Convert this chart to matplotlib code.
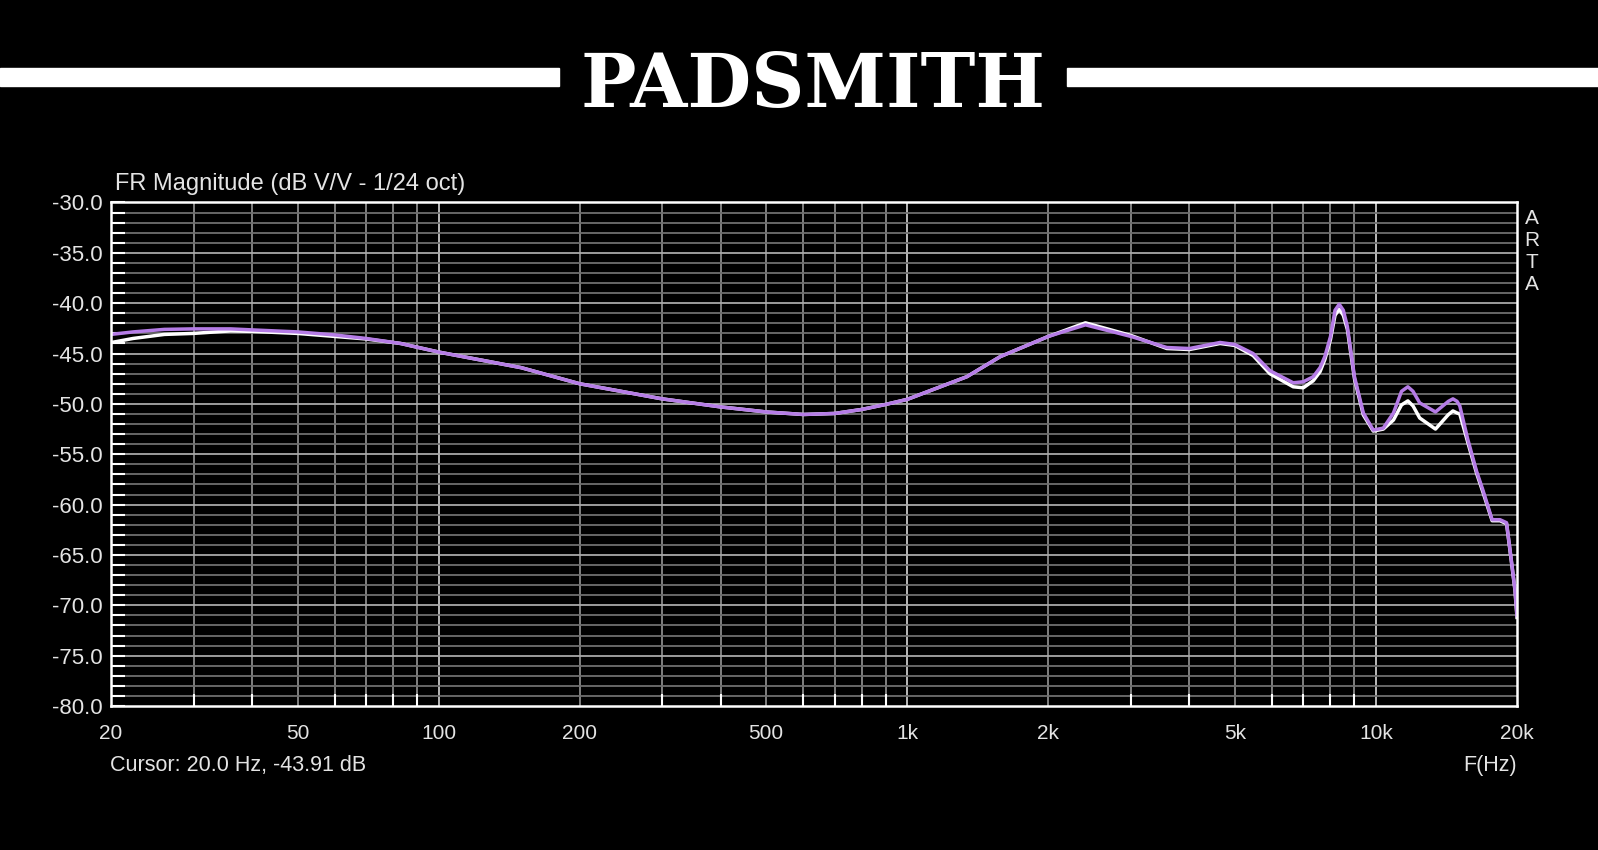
import matplotlib
matplotlib.use("Agg")
import matplotlib.pyplot as plt

# frequency points (Hz)
freq = [20, 22.3, 26, 30, 36, 40, 50, 60, 70, 83, 100, 150, 200, 300, 400, 500,
        600, 700, 800, 900, 1000, 1340, 1580, 2000, 2400, 3000, 3580, 4000, 4650,
        5000, 5470, 5940, 6660, 7000, 7350, 7600, 7780, 8000, 8180, 8350, 8520,
        8690, 9000, 9400, 9870, 10370, 10900, 11340, 11700, 12000, 12400, 13400,
        14270, 14600, 14900, 15100, 15700, 16400, 16900, 17700, 18400, 19000,
        19400, 19800, 20000]

# purple trace (dB)
purple_db = [-43.1, -42.85, -42.6, -42.55, -42.55, -42.65, -42.85, -43.15, -43.5,
             -44.0, -44.85, -46.4, -48.0, -49.5, -50.3, -50.8, -51.05, -50.95,
             -50.55, -50.05, -49.55, -47.3, -45.3, -43.3, -42.15, -43.3, -44.4,
             -44.5, -43.9, -44.1, -45.0, -46.7, -47.9, -47.8, -47.3, -46.4, -45.3,
             -43.3, -40.7, -40.1, -40.7, -42.3, -47.3, -50.9, -52.6, -52.4, -50.9,
             -48.75, -48.3, -48.75, -49.9, -50.8, -49.75, -49.5, -49.75, -50.2,
             -53.5, -56.7, -58.5, -61.5, -61.5, -61.8, -65.1, -68.4, -71.0]

# white trace (dB)
white_db = [-43.91, -43.5, -43.1, -43.0, -42.75, -42.8, -43.0, -43.3, -43.55,
            -44.0, -44.85, -46.4, -48.0, -49.5, -50.3, -50.8, -51.05, -50.95,
            -50.55, -50.05, -49.55, -47.3, -45.3, -43.3, -41.95, -43.2, -44.5,
            -44.6, -44.0, -44.2, -45.2, -47.0, -48.3, -48.4, -47.7, -46.8, -45.6,
            -43.6, -41.2, -40.6, -41.2, -42.6, -47.5, -51.1, -52.7, -52.5, -51.6,
            -50.1, -49.7, -50.2, -51.4, -52.5, -51.07, -50.7, -50.9, -51.0,
            -53.8, -56.9, -58.7, -61.6, -61.6, -61.9, -65.2, -68.5, -71.2]

x_ticks = [20, 50, 100, 200, 500, 1000, 2000, 5000, 10000, 20000]
x_labels = ["20", "50", "100", "200", "500", "1k", "2k", "5k", "10k", "20k"]
y_ticks = list(range(-80, -29, 5))

plt.rcParams["font.family"] = ["Liberation Sans", "DejaVu Sans"]
txt = "#e4e4e4"

fig = plt.figure(figsize=(15.98, 8.5), dpi=100, facecolor="black")

# logo band
fig.add_artist(plt.Rectangle((0, 1 - 86 / 850), 559 / 1598, 18 / 850,
                             transform=fig.transFigure, color="white"))
fig.add_artist(plt.Rectangle((1067 / 1598, 1 - 86 / 850), 1 - 1067 / 1598, 18 / 850,
                             transform=fig.transFigure, color="white"))
fig.text(813 / 1598, 1 - 87 / 850, "PADSMITH", color="white", ha="center",
         va="center", fontsize=53, fontweight="bold", family="DejaVu Serif")

ax = fig.add_axes([111 / 1598, 144 / 850, 1406 / 1598, 503.5 / 850])
ax.set_facecolor("black")
ax.set_xscale("log")
ax.set_xlim(20, 20000)
ax.set_ylim(-80, -30)

# grid
for d in [10, 100, 1000, 10000]:
    for k in range(1, 10):
        f = d * k
        if 20 < f < 20000:
            c = "#c8c8c8" if k == 1 else "#8a8a8a"
            ax.axvline(f, color=c, lw=1.3, zorder=1)
for v in range(-79, -30):
    c = "#a8a8a8" if v % 5 == 0 else "#6e6e6e"
    ax.axhline(v, color=c, lw=1.3, zorder=1)

ax.plot(freq, white_db, color="white", lw=2.5, zorder=3)
ax.plot(freq, purple_db, color="#b57ce6", lw=2.5, zorder=4)

ax.set_xticks(x_ticks)
ax.set_xticklabels(x_labels)
ax.set_xticks([d * k for d in [10, 100, 1000, 10000] for k in range(1, 10)
               if 20 < d * k < 20000], minor=True)
ax.set_yticks(y_ticks)
ax.set_yticklabels([f"{v:.1f}" for v in y_ticks])
ax.set_yticks([v for v in range(-80, -29) if v % 5], minor=True)

ax.tick_params(axis="x", which="major", length=0, pad=13, labelsize=15, labelcolor=txt)
ax.tick_params(axis="x", which="minor", direction="in", length=9, width=1.5,
               color="white")
ax.tick_params(axis="y", which="both", direction="in", length=10, width=1.5,
               color="white", pad=6, labelsize=16, labelcolor=txt)
ax.xaxis.set_minor_formatter(plt.NullFormatter())
for s in ax.spines.values():
    s.set_color("white")
    s.set_linewidth(1.8)
    s.set_zorder(5)

fig.text(115 / 1598, 1 - 184 / 850, "FR Magnitude (dB V/V - 1/24 oct)",
         color=txt, fontsize=17, va="center", ha="left")
fig.text(110 / 1598, 1 - 766 / 850, "Cursor: 20.0 Hz, -43.91 dB",
         color=txt, fontsize=15.5, va="center", ha="left")
fig.text(1517 / 1598, 1 - 766 / 850, "F(Hz)", color=txt, fontsize=15.5,
         va="center", ha="right")
fig.text(1532 / 1598, 1 - 251 / 850, "A\nR\nT\nA", color=txt, fontsize=15,
         va="center", ha="center", linespacing=1.2)

fig.savefig("out.png", dpi=100, facecolor="black")
